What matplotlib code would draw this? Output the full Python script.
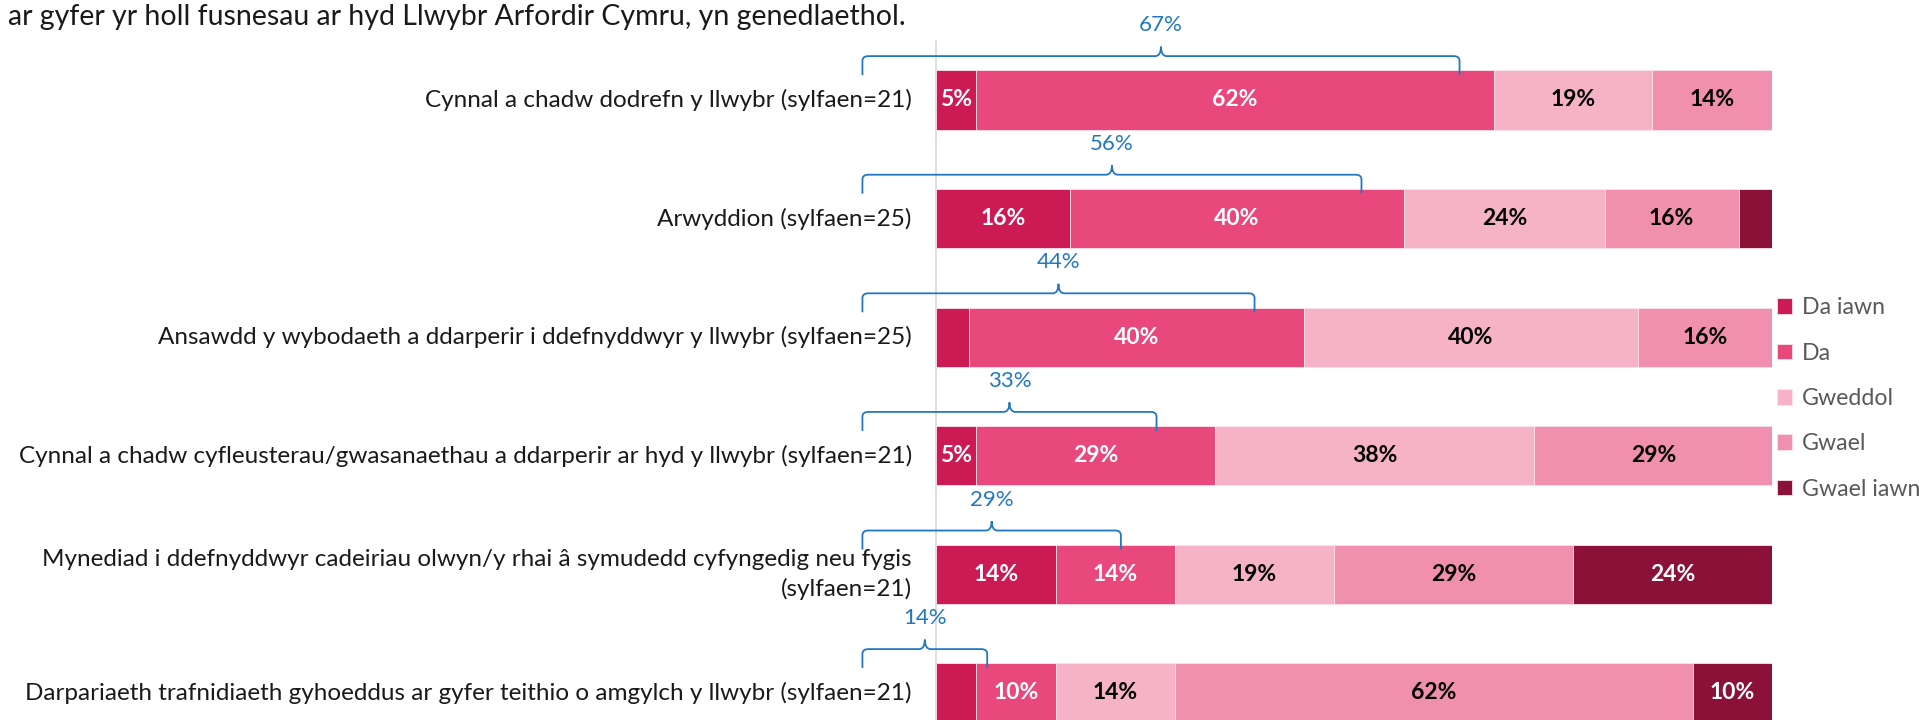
import matplotlib.pyplot as plt
import numpy as np
from matplotlib.path import Path
from matplotlib.patches import PathPatch

categories = [
    'Cynnal a chadw dodrefn y llwybr (sylfaen=21)',
    'Arwyddion (sylfaen=25)',
    'Ansawdd y wybodaeth a ddarperir i ddefnyddwyr y llwybr (sylfaen=25)',
    'Cynnal a chadw cyfleusterau/gwasanaethau a ddarperir ar hyd y llwybr (sylfaen=21)',
    'Mynediad i ddefnyddwyr cadeiriau olwyn/y rhai â symudedd cyfyngedig neu fygis\n(sylfaen=21)',
    'Darpariaeth trafnidiaeth gyhoeddus ar gyfer teithio o amgylch y llwybr (sylfaen=21)',
]
series = ['Da iawn', 'Da', 'Gweddol', 'Gwael', 'Gwael iawn']
da_iawn = [4.8, 16, 4, 4.8, 14.3, 4.8]
da = [61.9, 40, 40, 28.6, 14.3, 9.5]
gweddol = [19.0, 24, 40, 38.1, 19.0, 14.3]
gwael = [14.3, 16, 16, 28.6, 28.6, 61.9]
gwael_iawn = [0, 4, 0, 0, 23.8, 9.5]
# labels as shown on the bars ('' = not labelled)
lab_da_iawn = ['5%', '16%', '', '5%', '14%', '']
lab_da = ['62%', '40%', '40%', '29%', '14%', '10%']
lab_gweddol = ['19%', '24%', '40%', '38%', '19%', '14%']
lab_gwael = ['14%', '16%', '16%', '29%', '29%', '62%']
lab_gwael_iawn = ['', '', '', '', '24%', '10%']
net_good = [67, 56, 44, 33, 29, 14]
title = 'ar gyfer yr holl fusnesau ar hyd Llwybr Arfordir Cymru, yn genedlaethol.'

colors = ['#CC1A55', '#E8487C', '#F6B3C8', '#F08FAE', '#8B1139']
txt_colors = ['white', 'white', 'black', 'black', 'white']
blue = '#2278C0'

plt.rcParams['font.family'] = ['Lato', 'DejaVu Sans']

fig = plt.figure(figsize=(19.19, 7.2), dpi=100)
ax = fig.add_axes([936 / 1919, 0, 836 / 1919, 1])

vals = np.array([da_iawn, da, gweddol, gwael, gwael_iawn])
labs = [lab_da_iawn, lab_da, lab_gweddol, lab_gwael, lab_gwael_iawn]
y = np.arange(len(categories))
left = np.zeros(len(categories))
handles = []
for k, name in enumerate(series):
    b = ax.barh(y, vals[k], left=left, height=0.5, color=colors[k],
                edgecolor='#FBE3EA', linewidth=0.6, label=name)
    handles.append(b)
    for i in range(len(y)):
        if labs[k][i]:
            ax.text(left[i] + vals[k][i] / 2, y[i], labs[k][i], ha='center', va='center',
                    color=txt_colors[k], fontsize=16.5, fontweight='bold')
    left += vals[k]

ax.set_xlim(0, 100)
ax.set_ylim((720 - 100) / 118.6, -100 / 118.6)
ax.axis('off')
ax.plot([0, 0], [-0.5, 6], color='#D9D9D9', lw=1.2, clip_on=False, zorder=0)

# category labels
for i, c in enumerate(categories):
    ax.text(-2.9, y[i], c, ha='right', va='center', fontsize=17.5, color='#1a1a1a',
            linespacing=1.4)

# curly braces for Da iawn + Da
x0 = -8.8
rx, ry = 0.7, 0.04
for i, p in enumerate(net_good):
    x1 = x0 + p * 1.066
    xm = (x0 + x1) / 2
    yl = y[i] - 0.37
    ye = y[i] - 0.21
    yt = y[i] - 0.45
    verts = [(x0, ye), (x0, yl + ry), (x0, yl), (x0 + rx, yl),
             (xm - rx, yl), (xm, yl), (xm, yt), (xm, yl), (xm + rx, yl),
             (x1 - rx, yl), (x1, yl), (x1, yl + ry), (x1, ye)]
    codes = [Path.MOVETO, Path.LINETO, Path.CURVE3, Path.CURVE3,
             Path.LINETO, Path.CURVE3, Path.CURVE3, Path.CURVE3, Path.CURVE3,
             Path.LINETO, Path.CURVE3, Path.CURVE3, Path.LINETO]
    ax.add_patch(PathPatch(Path(verts, codes), fill=False, edgecolor=blue, lw=1.3,
                           clip_on=False))
    ax.text(xm, y[i] - 0.63, f'{p}%', ha='center', va='center', color=blue, fontsize=16)

fig.text(8 / 1919, 1 - 17 / 720, title, ha='left', va='center', fontsize=20.5, color='#1a1a1a')

ax.legend(handles=handles, loc='upper left', bbox_to_anchor=(1768 / 1919, 1 - 288 / 720),
          bbox_transform=fig.transFigure, frameon=False, fontsize=16.7,
          handlelength=0.65, handleheight=0.65, handletextpad=0.4,
          labelspacing=1.05, labelcolor='#595959', borderaxespad=0)

fig.savefig('out.png', dpi=100)
